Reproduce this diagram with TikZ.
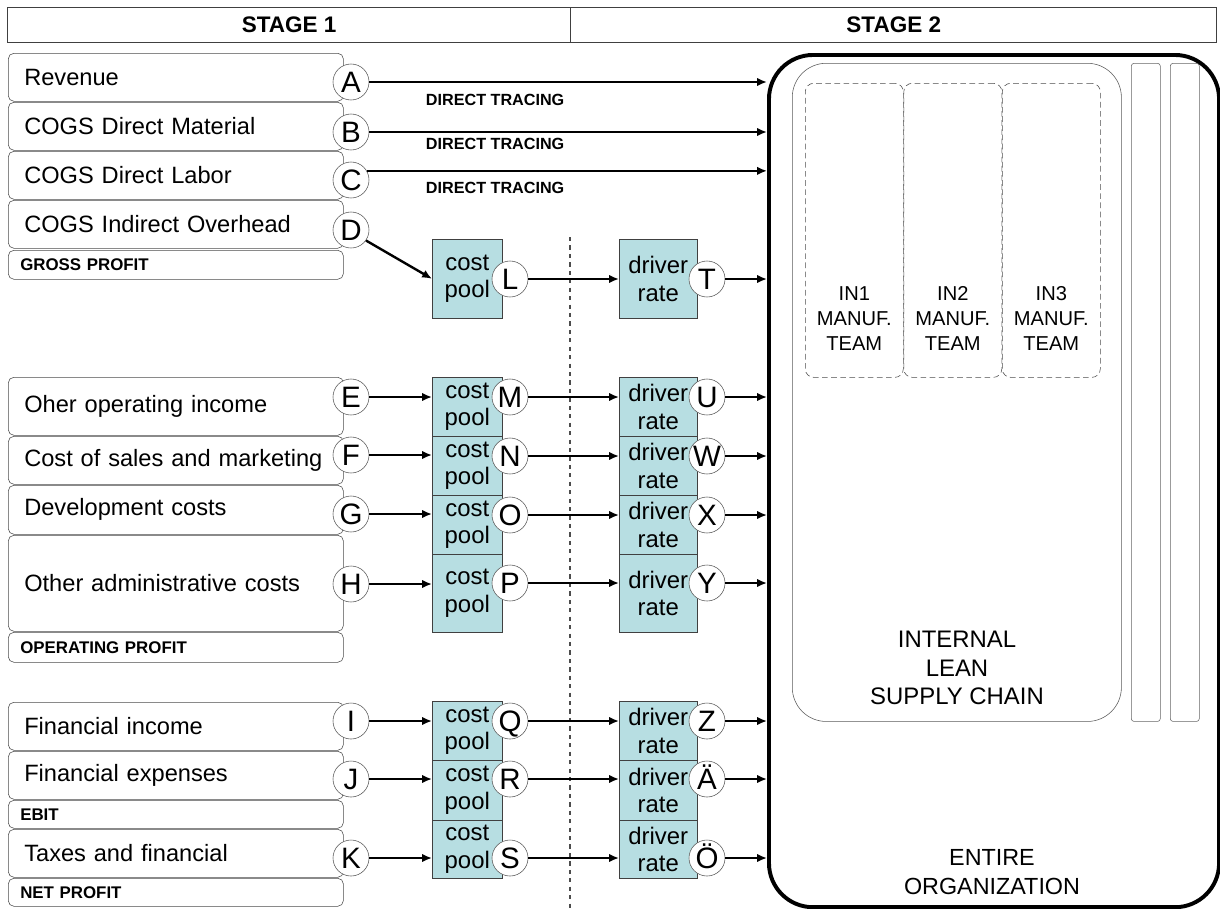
\documentclass[tikz,border=0pt]{standalone}
\usepackage{fontspec}
\setmainfont{Liberation Sans}
\usetikzlibrary{arrows.meta}
\definecolor{poolblue}{RGB}{183,222,226}
\begin{document}
\begin{tikzpicture}[x=.025cm,y=-.025cm,
entry/.style={draw=black!70,rounded corners=4pt,anchor=north west,inner xsep=.4cm,inner ysep=0pt,text width=7.575cm,align=left,font=\fontsize{16.8}{19}\selectfont},
total/.style={entry,inner xsep=.3cm,text width=7.775cm,font=\fontsize{12}{14}\selectfont\bfseries},
ltr/.style={circle,draw=black!65,fill=white,minimum size=.9cm,inner sep=0pt,text height=15pt,text depth=0pt,font=\fontsize{21}{21}\selectfont},
pool/.style={draw=black!75,fill=poolblue,anchor=north west,minimum width=1.75cm,inner sep=0pt,align=center,font=\fontsize{17}{19.5}\selectfont},
rate/.style={pool,minimum width=1.95cm},
arr/.style={line width=1.7pt,-{Latex[length=7pt,width=6pt]}},
stage/.style={draw=black!75,line width=.9pt,anchor=north west,minimum height=.875cm,font=\fontsize{16}{18}\selectfont\bfseries},
team/.style={draw=black!70,dash pattern=on 4pt off 2.5pt,rounded corners=6pt,anchor=north west,minimum width=2.45cm,minimum height=7.35cm},
slot/.style={draw=black!60,rounded corners=2pt,anchor=north west,minimum width=.725cm,minimum height=16.45cm},
caps/.style={align=center,font=\fontsize{17}{20.5}\selectfont}]
\useasboundingbox(0,0)rectangle(1220,908);
\node[stage,minimum width=14.075cm](s1)at(7,7){STAGE 1};\node[stage,minimum width=16.15cm](s2)at(570,7){STAGE 2};
\node[draw,line width=2.8pt,rounded corners=1.1cm,anchor=north west,minimum width=11.25cm,minimum height=21.3cm](org)at(767,53){};
\node[draw=black!65,rounded corners=.85cm,anchor=north west,minimum width=8.225cm,minimum height=16.45cm](lean)at(792,63){};
\node[slot](b1)at(1131,63){};\node[slot](b2)at(1170,63){};
\foreach\n/\x/\t in{t1/805/IN1,t2/903.5/IN2,t3/1002/IN3}{\node[team](\n)at(\x,83){};
\node[align=center,font=\fontsize{14.3}{17.7}\selectfont](\n l)at([yshift=1.475cm]\n.south){\t\\MANUF.\\TEAM};}
\node[caps](leanl)at(957,668){INTERNAL\\LEAN\\SUPPLY CHAIN};
\node[caps,font=\fontsize{16.6}{21}\selectfont](orgl)at(992,872){ENTIRE\\ORGANIZATION};
\draw[dashed,black!70,thick](570,237)--(570,908);
\foreach\n/\y/\h/\s/\t in{rev/53/1.2/entry/Revenue,dm/102/1.2/entry/COGS Direct Material,dl/151/1.2/entry/COGS Direct Labor,ioh/200/1.2/entry/COGS Indirect Overhead,gp/250/.725/total/GROSS PROFIT,
ooi/377/1.45/entry/Oher operating income,csm/436/1.2/entry/Cost of sales and marketing,dev/485/1.225/entry/Development costs,oac/535/2.4/entry/Other administrative costs,op/632/.75/total/OPERATING PROFIT,
fin/702/1.2/entry/Financial income,fex/751/1.2/entry/Financial expenses,ebit/800/.7/total/EBIT,tax/829/1.2/entry/Taxes and financial,np/878/.7/total/NET PROFIT}
{\node[\s,minimum height=\h cm](\n)at(8,\y){\t};}
\foreach\p/\y in{A/82,B/132,C/180,D/230,E/397,F/455,G/514,H/584,I/721,J/779,K/858}{\node[ltr](\p)at(351,\y){\p};}
\foreach\p/\y/\h in{L/239/1.975,M/377/1.475,N/436/1.475,O/495/1.475,P/554/1.95,Q/701/1.475,R/760/1.5,S/820/1.45}{\node[pool,minimum height=\h cm](p\p)at(432,\y){cost\\pool};}
\foreach\p/\y/\h in{T/239/1.975,U/377/1.475,W/436/1.475,X/495/1.475,Y/554/1.95,Z/701/1.475,Ae/760/1.5,Oe/820/1.45}{\node[rate,minimum height=\h cm](d\p)at(619,\y){driver\\rate};}
\foreach\p/\y in{L/279,M/397,N/456,O/515,P/583,Q/721,R/779,S/858}{\node[ltr](\p)at(510,\y){\p};}
\foreach\p/\t/\y in{T/T/279,U/U/397,W/W/456,X/X/515,Y/Y/583,Z/Z/721,Ae/Ä/779,Oe/Ö/858}{\node[ltr](\p)at(707,\y){\t};}
\foreach\y[count=\i]in{100,144,188}{\node[anchor=west,font=\fontsize{11.5}{13}\selectfont\bfseries](dt\i)at(421,\y){DIRECT TRACING};}
\draw[arr](A.east)--(A.east-|org.west);\draw[arr](B.east)--(B.east-|org.west);\draw[arr](C.30)--(C.30-|org.west);
\draw[arr](D.-35)--(pL.west);
\foreach\a/\b in{E/M,F/N,G/O,H/P,I/Q,J/R,K/S}{\draw[arr](\a.east)--(\a.east-|p\b.west);}
\foreach\a/\b in{L/T,M/U,N/W,O/X,P/Y,Q/Z,R/Ae,S/Oe}{\draw[arr](\a.east)--(\a.east-|d\b.west);\draw[arr](\b.east)--(\b.east-|org.west);}
\end{tikzpicture}
\end{document}
